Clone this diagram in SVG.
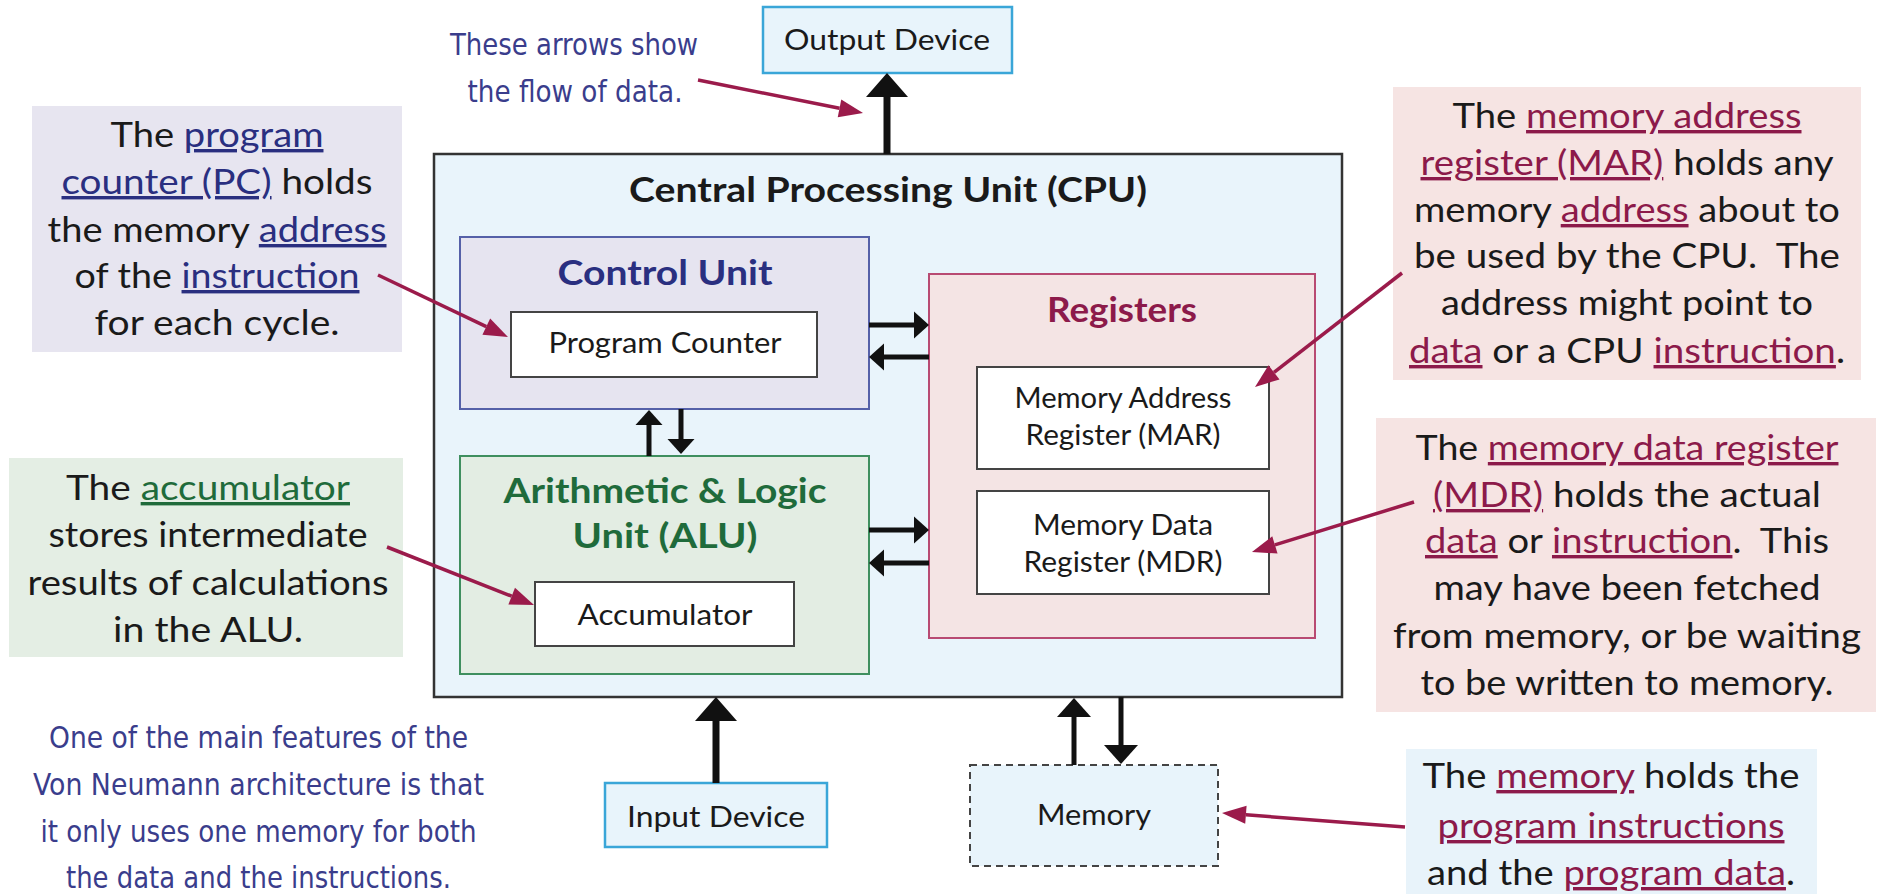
<svg xmlns="http://www.w3.org/2000/svg" width="1881" height="894" viewBox="0 0 1881 894">
<defs>
<style>
.t{font-family:Lato,"Open Sans","Liberation Sans",sans-serif;fill:#1a1a1a;text-anchor:middle}
.ann{font-size:34px}
.box{font-size:28px}
.ttl{font-size:34px;font-weight:bold}
.hw{font-family:"DejaVu Sans Condensed","Liberation Sans Narrow",Lato,sans-serif;font-size:31px;fill:#3a3d8c;text-anchor:middle;font-weight:300}
.u{text-decoration:underline}
.nv{fill:#2a2f80}
.gr{fill:#1f6b3b}
.mr{fill:#8c1a4a}
.stem{stroke:#111;fill:none}
.pt{stroke:#9b1b4b;stroke-width:3.5;fill:none;marker-end:url(#mh)}
</style>
<marker id="big" markerUnits="userSpaceOnUse" markerWidth="26" markerHeight="44" refX="0" refY="21" orient="auto" overflow="visible"><path d="M0,0 L24,21 L0,42 z" fill="#111"/></marker>
<marker id="med" markerUnits="userSpaceOnUse" markerWidth="21" markerHeight="36" refX="0" refY="17" orient="auto" overflow="visible"><path d="M0,0 L19,17 L0,34 z" fill="#111"/></marker>
<marker id="sm" markerUnits="userSpaceOnUse" markerWidth="17" markerHeight="29" refX="0" refY="13.5" orient="auto" overflow="visible"><path d="M0,0 L15,13.5 L0,27 z" fill="#111"/></marker>
<marker id="mh" markerUnits="userSpaceOnUse" markerWidth="26" markerHeight="20" refX="0" refY="9" orient="auto" overflow="visible"><path d="M0,0 L24,9 L0,18 z" fill="#9b1b4b"/></marker>
</defs>
<rect width="1881" height="894" fill="#ffffff"/>

<g id="cpu">
<rect x="434" y="154" width="908" height="543" fill="#e9f4fb" stroke="#333" stroke-width="2.5"/>
<text class="t ttl" x="888" y="202" textLength="518" lengthAdjust="spacingAndGlyphs">Central Processing Unit (CPU)</text>
</g>

<g id="control-unit">
<rect x="460" y="237" width="409" height="172" fill="#e6e4f0" stroke="#5560a8" stroke-width="2"/>
<text class="t ttl nv" x="665" y="285" textLength="215" lengthAdjust="spacingAndGlyphs">Control Unit</text>
</g>
<g id="program-counter">
<rect x="511" y="312" width="306" height="65" fill="#fff" stroke="#444" stroke-width="2"/>
<text class="t box" x="665" y="353" textLength="233" lengthAdjust="spacingAndGlyphs">Program Counter</text>
</g>

<g id="alu">
<rect x="460" y="456" width="409" height="218" fill="#e3ede3" stroke="#3f8f5f" stroke-width="2"/>
<text class="t ttl gr" x="665" y="503" textLength="323" lengthAdjust="spacingAndGlyphs">Arithmetic &amp; Logic</text>
<text class="t ttl gr" x="665" y="548" textLength="185" lengthAdjust="spacingAndGlyphs">Unit (ALU)</text>
</g>
<g id="accumulator">
<rect x="535" y="582" width="259" height="64" fill="#fff" stroke="#444" stroke-width="2"/>
<text class="t box" x="665" y="625" textLength="175" lengthAdjust="spacingAndGlyphs">Accumulator</text>
</g>

<g id="registers">
<rect x="929" y="274" width="386" height="364" fill="#f4e4e4" stroke="#b84a72" stroke-width="2"/>
<text class="t ttl mr" x="1122" y="322" textLength="150" lengthAdjust="spacingAndGlyphs">Registers</text>
</g>
<g id="mar">
<rect x="977" y="367" width="292" height="102" fill="#fff" stroke="#444" stroke-width="2"/>
<text class="t box" x="1123" y="408" textLength="217" lengthAdjust="spacingAndGlyphs">Memory Address</text>
<text class="t box" x="1123" y="445" textLength="195" lengthAdjust="spacingAndGlyphs">Register (MAR)</text>
</g>
<g id="mdr">
<rect x="977" y="491" width="292" height="103" fill="#fff" stroke="#444" stroke-width="2"/>
<text class="t box" x="1123" y="535" textLength="180" lengthAdjust="spacingAndGlyphs">Memory Data</text>
<text class="t box" x="1123" y="572" textLength="199" lengthAdjust="spacingAndGlyphs">Register (MDR)</text>
</g>

<g id="output-device">
<rect x="763" y="7" width="249" height="66" fill="#e8f4fb" stroke="#3aa6d8" stroke-width="2.5"/>
<text class="t box" x="887" y="50" textLength="206" lengthAdjust="spacingAndGlyphs">Output Device</text>
</g>
<g id="input-device">
<rect x="605" y="783" width="222" height="64" fill="#e8f4fb" stroke="#3aa6d8" stroke-width="2.5"/>
<text class="t box" x="716" y="827" textLength="178" lengthAdjust="spacingAndGlyphs">Input Device</text>
</g>
<g id="memory">
<rect x="970" y="765" width="248" height="101" fill="#e8f4fb" stroke="#444" stroke-width="2" stroke-dasharray="7,5"/>
<text class="t box" x="1094" y="825" textLength="114" lengthAdjust="spacingAndGlyphs">Memory</text>
</g>

<g id="note-pc">
<rect x="32" y="106" width="370" height="246" fill="#e7e5f0"/>
<text class="t ann" x="217" y="147" textLength="213" lengthAdjust="spacingAndGlyphs">The <tspan class="u nv">program</tspan></text>
<text class="t ann" x="217" y="194" textLength="311" lengthAdjust="spacingAndGlyphs"><tspan class="u nv">counter (PC)</tspan> holds</text>
<text class="t ann" x="217" y="242" textLength="339" lengthAdjust="spacingAndGlyphs">the memory <tspan class="u nv">address</tspan></text>
<text class="t ann" x="217" y="288" textLength="285" lengthAdjust="spacingAndGlyphs">of the <tspan class="u nv">instruction</tspan></text>
<text class="t ann" x="217" y="335" textLength="245" lengthAdjust="spacingAndGlyphs">for each cycle.</text>
</g>

<g id="note-acc">
<rect x="9" y="458" width="394" height="199" fill="#e4eee4"/>
<text class="t ann" x="208" y="500" textLength="284" lengthAdjust="spacingAndGlyphs">The <tspan class="u gr">accumulator</tspan></text>
<text class="t ann" x="208" y="547" textLength="319" lengthAdjust="spacingAndGlyphs">stores intermediate</text>
<text class="t ann" x="208" y="595" textLength="361" lengthAdjust="spacingAndGlyphs">results of calculations</text>
<text class="t ann" x="208" y="642" textLength="190" lengthAdjust="spacingAndGlyphs">in the ALU.</text>
</g>

<g id="note-mar">
<rect x="1393" y="87" width="468" height="293" fill="#f6e4e3"/>
<text class="t ann" x="1627" y="128" textLength="349" lengthAdjust="spacingAndGlyphs">The <tspan class="u mr">memory address</tspan></text>
<text class="t ann" x="1627" y="175" textLength="413" lengthAdjust="spacingAndGlyphs"><tspan class="u mr">register (MAR)</tspan> holds any</text>
<text class="t ann" x="1627" y="222" textLength="426" lengthAdjust="spacingAndGlyphs">memory <tspan class="u mr">address</tspan> about to</text>
<text class="t ann" x="1627" y="268" textLength="426" lengthAdjust="spacingAndGlyphs" xml:space="preserve">be used by the CPU.  The</text>
<text class="t ann" x="1627" y="315" textLength="372" lengthAdjust="spacingAndGlyphs">address might point to</text>
<text class="t ann" x="1627" y="363" textLength="436" lengthAdjust="spacingAndGlyphs"><tspan class="u mr">data</tspan> or a CPU <tspan class="u mr">instruction</tspan>.</text>
</g>

<g id="note-mdr">
<rect x="1376" y="418" width="500" height="294" fill="#f6e4e3"/>
<text class="t ann" x="1627" y="460" textLength="423" lengthAdjust="spacingAndGlyphs">The <tspan class="u mr">memory data register</tspan></text>
<text class="t ann" x="1627" y="507" textLength="388" lengthAdjust="spacingAndGlyphs"><tspan class="u mr">(MDR)</tspan> holds the actual</text>
<text class="t ann" x="1627" y="553" textLength="404" lengthAdjust="spacingAndGlyphs" xml:space="preserve"><tspan class="u mr">data</tspan> or <tspan class="u mr">instruction</tspan>.  This</text>
<text class="t ann" x="1627" y="600" textLength="387" lengthAdjust="spacingAndGlyphs">may have been fetched</text>
<text class="t ann" x="1627" y="648" textLength="468" lengthAdjust="spacingAndGlyphs">from memory, or be waiting</text>
<text class="t ann" x="1627" y="695" textLength="413" lengthAdjust="spacingAndGlyphs">to be written to memory.</text>
</g>

<g id="note-memory">
<rect x="1406" y="749" width="411" height="145" fill="#e8f3fa"/>
<text class="t ann" x="1611" y="788" textLength="377" lengthAdjust="spacingAndGlyphs">The <tspan class="u mr">memory</tspan> holds the</text>
<text class="t ann" x="1611" y="838" textLength="347" lengthAdjust="spacingAndGlyphs"><tspan class="u mr">program instructions</tspan></text>
<text class="t ann" x="1611" y="885" textLength="368" lengthAdjust="spacingAndGlyphs">and the <tspan class="u mr">program data</tspan>.</text>
</g>

<g id="note-arrows">
<text class="hw" x="574" y="55" textLength="248" lengthAdjust="spacingAndGlyphs">These arrows show</text>
<text class="hw" x="575" y="102" textLength="215" lengthAdjust="spacingAndGlyphs">the flow of data.</text>
</g>

<g id="note-vonneumann">
<text class="hw" x="258.5" y="748" textLength="419" lengthAdjust="spacingAndGlyphs">One of the main features of the</text>
<text class="hw" x="258.5" y="795" textLength="451" lengthAdjust="spacingAndGlyphs">Von Neumann architecture is that</text>
<text class="hw" x="258.5" y="842" textLength="436" lengthAdjust="spacingAndGlyphs">it only uses one memory for both</text>
<text class="hw" x="258.5" y="888" textLength="385" lengthAdjust="spacingAndGlyphs">the data and the instructions.</text>
</g>

<g id="connectors">
<line class="stem" x1="887" y1="154" x2="887" y2="97" stroke-width="7" marker-end="url(#big)"/>
<line class="stem" x1="716" y1="783" x2="716" y2="721" stroke-width="7" marker-end="url(#big)"/>
<line class="stem" x1="1074" y1="765" x2="1074" y2="717" stroke-width="5" marker-end="url(#med)"/>
<line class="stem" x1="1121" y1="697" x2="1121" y2="745" stroke-width="5" marker-end="url(#med)"/>
<line class="stem" x1="869" y1="325" x2="914" y2="325" stroke-width="5" marker-end="url(#sm)"/>
<line class="stem" x1="929" y1="357" x2="884" y2="357" stroke-width="5" marker-end="url(#sm)"/>
<line class="stem" x1="869" y1="530" x2="914" y2="530" stroke-width="5" marker-end="url(#sm)"/>
<line class="stem" x1="929" y1="563" x2="884" y2="563" stroke-width="5" marker-end="url(#sm)"/>
<line class="stem" x1="649" y1="456" x2="649" y2="425" stroke-width="5" marker-end="url(#sm)"/>
<line class="stem" x1="681" y1="409" x2="681" y2="439" stroke-width="5" marker-end="url(#sm)"/>
<line class="pt" x1="698" y1="80" x2="839.5" y2="108.3"/>
<line class="pt" x1="378" y1="275" x2="486.3" y2="326.7"/>
<line class="pt" x1="387" y1="547" x2="511.7" y2="596.2"/>
<line class="pt" x1="1402" y1="273" x2="1274" y2="372.3"/>
<line class="pt" x1="1414" y1="502" x2="1274.9" y2="544.9"/>
<line class="pt" x1="1405" y1="827" x2="1245.9" y2="814.8"/>
</g>
</svg>
